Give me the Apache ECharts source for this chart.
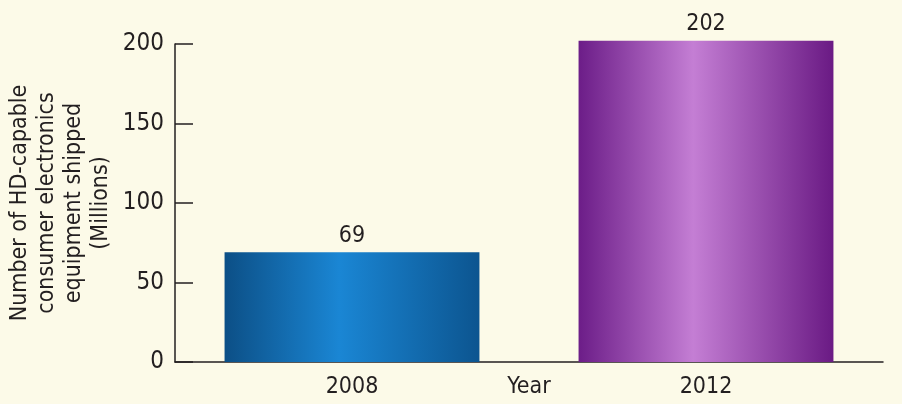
<!DOCTYPE html>
<html>
<head>
<meta charset="utf-8">
<script src="https://cdn.jsdelivr.net/npm/echarts@6/dist/echarts.min.js"></script>
<style>
  html, body { margin: 0; padding: 0; background: #fcfae8; }
  #main { width: 902px; height: 404px; }
</style>
</head>
<body>
<div id="main"></div>
<script>
// data
const years = ['2008', '2012']
const shipped = [69, 202]
const yTicks = [0, 50, 100, 150, 200]

const font = "'Liberation Sans Narrow', 'DejaVu Sans Condensed', sans-serif"
const ink = '#231f20'

// horizontal sheen on each bar: dark edges, bright middle
const sheen = [
  ['#0c4f86', '#1a86d4', '#0c5590'],
  ['#6c1d88', '#c47ed4', '#6a1a84']
]
const fill = s => ({
  type: 'linear', x: 0, y: 0, x2: 1, y2: 0,
  colorStops: [
    { offset: 0, color: s[0] },
    { offset: 0.45, color: s[1] },
    { offset: 1, color: s[2] }
  ]
})

const chart = echarts.init(document.getElementById('main'))
chart.setOption({
  backgroundColor: '#fcfae8',
  textStyle: { fontFamily: font },
  animation: false,
  grid: { left: 175, right: 19, top: 44, bottom: 42, outerBoundsMode: 'none', containLabel: false },
  xAxis: {
    type: 'category',
    data: years,
    name: 'Year',
    nameLocation: 'middle',
    nameGap: 14,
    nameMoveOverlap: false,
    nameTextStyle: { color: ink, fontSize: 23, fontFamily: font },
    axisLine: { lineStyle: { color: ink, width: 1.5 } },
    axisTick: { inside: true, length: 6, lineStyle: { color: ink, width: 1.5 } },
    axisLabel: { color: ink, fontSize: 23, margin: 14, fontFamily: font }
  },
  yAxis: {
    type: 'value',
    min: yTicks[0],
    max: yTicks[yTicks.length - 1],
    interval: yTicks[1] - yTicks[0],
    name: 'Number of HD-capable\nconsumer electronics\nequipment shipped\n(Millions)',
    nameLocation: 'middle',
    nameRotate: 90,
    nameGap: 60,
    nameMoveOverlap: false,
    nameTextStyle: { color: ink, fontSize: 23, lineHeight: 27, align: 'center', fontFamily: font },
    splitLine: { show: false },
    axisLine: { show: true, lineStyle: { color: ink, width: 1.5 } },
    axisTick: { show: true, inside: true, length: 18, lineStyle: { color: ink, width: 1.5 } },
    axisLabel: { color: ink, fontSize: 24, margin: 11, fontFamily: font }
  },
  series: [{
    type: 'bar',
    clip: false,
    barWidth: '72%',
    data: shipped.map((v, i) => ({ value: v, itemStyle: { color: fill(sheen[i]) } })),
    label: {
      show: true,
      position: 'top',
      distance: 5,
      color: ink,
      fontSize: 23,
      fontFamily: font
    }
  }]
})
</script>
</body>
</html>
